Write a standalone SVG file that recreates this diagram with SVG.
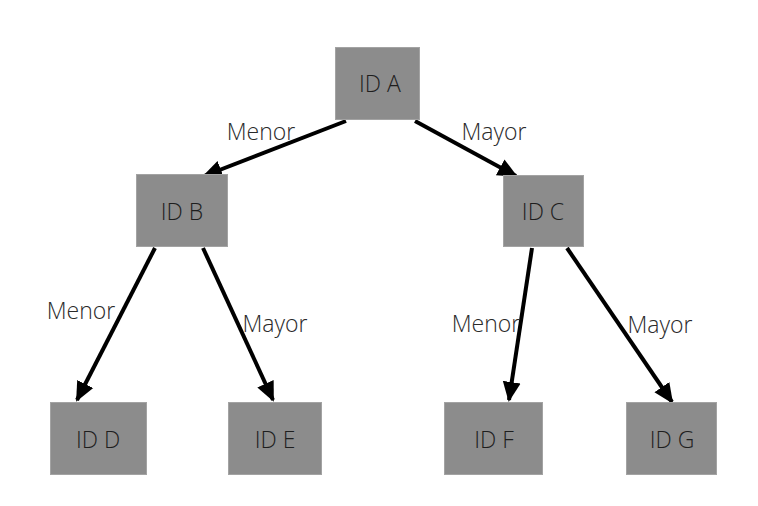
<svg xmlns="http://www.w3.org/2000/svg" width="758" height="506" viewBox="0 0 758 506">
<style>
.box{fill:#8c8c8c;stroke:#a3a3a3;stroke-width:1}
.nt{font-family:"Open Sans","Liberation Sans",sans-serif;font-weight:300;font-size:23px;fill:#1e1e1e;text-anchor:middle}
.lb{font-family:"Open Sans","Liberation Sans",sans-serif;font-weight:300;font-size:23px;fill:#2a2a2a;text-anchor:middle}
.e{stroke:#000;stroke-width:4;fill:none;marker-end:url(#ah)}
</style>
<defs>
<marker id="ah" markerWidth="6" markerHeight="6" refX="4.5" refY="2.75" orient="auto" markerUnits="strokeWidth">
<path d="M0,0.5 L5,2.75 L0,5 Z" fill="#000"/>
</marker>
</defs>
<rect width="758" height="506" fill="#fff"/>
<g id="connectors">
<line class="e" x1="346" y1="121" x2="204" y2="176"/>
<line class="e" x1="415" y1="121" x2="516" y2="176"/>
<line class="e" x1="155" y1="248" x2="77" y2="400"/>
<line class="e" x1="203" y1="248" x2="273" y2="400"/>
<line class="e" x1="532" y1="248" x2="509" y2="400"/>
<line class="e" x1="567" y1="248" x2="672" y2="402"/>
</g>
<g id="labels">
<text class="lb" x="261" y="140">Menor</text>
<text class="lb" x="494" y="140">Mayor</text>
<text class="lb" x="81" y="319">Menor</text>
<text class="lb" x="275" y="332">Mayor</text>
<text class="lb" x="486" y="332">Menor</text>
<text class="lb" x="660" y="333">Mayor</text>
</g>
<g id="nodeA"><rect class="box" x="335.5" y="47.5" width="84" height="72"/><text class="nt" x="380" y="92">ID A</text></g>
<g id="nodeB"><rect class="box" x="136.5" y="174.5" width="91" height="72"/><text class="nt" x="182" y="220">ID B</text></g>
<g id="nodeC"><rect class="box" x="503.5" y="175.5" width="80" height="71"/><text class="nt" x="543" y="220">ID C</text></g>
<g id="nodeD"><rect class="box" x="50.5" y="402.5" width="96" height="72"/><text class="nt" x="98" y="448">ID D</text></g>
<g id="nodeE"><rect class="box" x="228.5" y="402.5" width="93" height="72"/><text class="nt" x="275" y="448">ID E</text></g>
<g id="nodeF"><rect class="box" x="444.5" y="402.5" width="98" height="72"/><text class="nt" x="494" y="448">ID F</text></g>
<g id="nodeG"><rect class="box" x="626.5" y="402.5" width="90" height="72"/><text class="nt" x="672" y="448">ID G</text></g>
</svg>
